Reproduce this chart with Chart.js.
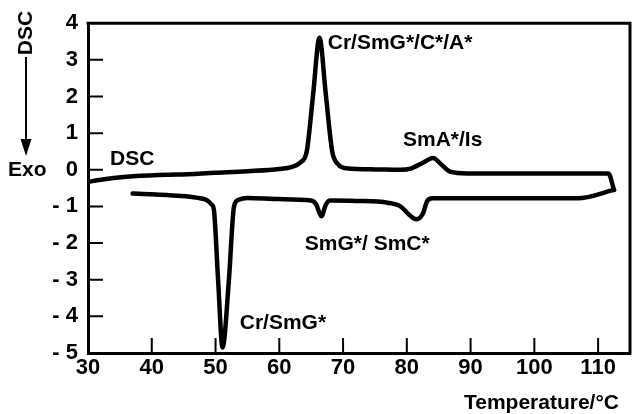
<!DOCTYPE html>
<html><head><meta charset="utf-8">
<script src="https://cdn.jsdelivr.net/npm/chart.js@4"></script>
<style>html,body{margin:0;padding:0;background:#fff;}canvas{display:block;}</style>
</head><body>
<canvas id="c" width="633" height="414"></canvas>
<script>
// Heating run (upper trace)
const heatT   = [30, 32, 36, 41, 44, 50, 55, 60, 62, 63.3, 64.3, 65.3, 66.3, 67.3, 68.3, 69.2, 70.5, 75, 79, 80.6, 82.6, 84.1, 85.5, 86.8, 89.5, 95, 100, 105, 111.6, 112.5];
const heatDSC = [-0.33, -0.27, -0.19, -0.14, -0.13, -0.08, -0.04, 0.02, 0.08, 0.2, 0.5, 2.05, 3.6, 2.05, 0.5, 0.15, 0.04, 0.01, 0.0, 0.03, 0.2, 0.32, 0.13, -0.05, -0.1, -0.1, -0.1, -0.1, -0.1, -0.55];
// Cooling run (lower trace)
const coolT   = [37, 40, 44, 47, 48.5, 49.4, 49.75, 50.4, 51.1, 52.1, 52.9, 53.6, 55, 60, 65, 65.8, 66.6, 67.3, 68, 72, 77, 79, 80.5, 81.5, 82.5, 83.2, 84, 95, 106.8, 112.5];
const coolDSC = [-0.65, -0.67, -0.71, -0.76, -0.82, -0.95, -1.1, -3.0, -4.85, -3.0, -1.0, -0.82, -0.77, -0.8, -0.84, -0.95, -1.27, -0.95, -0.84, -0.85, -0.9, -1.0, -1.25, -1.35, -1.2, -0.85, -0.78, -0.78, -0.78, -0.55];
// Axis ticks
const xTickValues = [30, 40, 50, 60, 70, 80, 90, 100, 110];
const yTickValues = [-5, -4, -3, -2, -1, 0, 1, 2, 3, 4];
// Texts
const xTitle = 'Temperature/°C';
const yTitle = 'DSC';
const exoLabel = 'Exo';
const curveLabel = 'DSC';
const transitionLabels = ['Cr/SmG*/C*/A*', 'SmA*/Is', 'SmG*/ SmC*', 'Cr/SmG*'];

const FONT = '"Liberation Sans", Arial, sans-serif';
const toXY = (xs, ys) => xs.map((x, i) => ({x, y: ys[i]}));

const decor = {
  id: 'decor',
  afterDraw(chart) {
    const {ctx, chartArea: a, scales: {x, y}} = chart;
    ctx.save();
    ctx.strokeStyle = '#000';
    ctx.fillStyle = '#000';
    ctx.lineCap = 'square';
    // frame top and right
    ctx.lineWidth = 3;
    ctx.beginPath();
    ctx.moveTo(a.left, a.top); ctx.lineTo(a.right, a.top); ctx.lineTo(a.right, a.bottom);
    ctx.stroke();
    // inward tick marks
    ctx.lineWidth = 2;
    ctx.lineCap = 'butt';
    ctx.beginPath();
    yTickValues.forEach(v => {
      if (v === -5 || v === 4) return;
      const py = y.getPixelForValue(v);
      ctx.moveTo(a.left, py); ctx.lineTo(a.left + 15, py);
    });
    xTickValues.forEach(v => {
      if (v === 30) return;
      const px = x.getPixelForValue(v);
      ctx.moveTo(px, a.bottom); ctx.lineTo(px, a.bottom - 15);
    });
    ctx.stroke();
    // annotations in data coordinates
    ctx.font = 'bold 21px ' + FONT;
    ctx.textBaseline = 'middle';
    ctx.textAlign = 'left';
    const put = (t, tx, ty) => ctx.fillText(t, x.getPixelForValue(tx), y.getPixelForValue(ty));
    put(curveLabel, 33.45, 0.30);
    put(transitionLabels[0], 67.6, 3.46);
    put(transitionLabels[1], 79.4, 0.81);
    put(transitionLabels[2], 64.0, -2.03);
    put(transitionLabels[3], 53.8, -4.19);
    // x title
    ctx.textAlign = 'right';
    ctx.fillText(xTitle, 619, 403);
    // y title, rotated, with arrow to Exo
    ctx.save();
    ctx.translate(26, 33);
    ctx.rotate(-Math.PI / 2);
    ctx.textAlign = 'center';
    ctx.fillText(yTitle, 0, 0);
    ctx.restore();
    ctx.lineWidth = 2;
    ctx.beginPath();
    ctx.moveTo(26, 57); ctx.lineTo(26, 142);
    ctx.stroke();
    ctx.beginPath();
    ctx.moveTo(20.5, 139); ctx.lineTo(31.5, 139); ctx.lineTo(26, 156); ctx.closePath();
    ctx.fill();
    ctx.textAlign = 'left';
    ctx.fillText(exoLabel, 8, 170);
    ctx.restore();
  }
};

new Chart(document.getElementById('c'), {
  type: 'line',
  data: {
    datasets: [
      {data: toXY(heatT, heatDSC)},
      {data: toXY(coolT, coolDSC)}
    ]
  },
  options: {
    responsive: false,
    animation: false,
    layout: {padding: {top: 20, right: 3, left: 0, bottom: 0}},
    elements: {
      line: {borderColor: '#000', borderWidth: 4.5, fill: false, cubicInterpolationMode: 'monotone', borderCapStyle: 'round', borderJoinStyle: 'round'},
      point: {radius: 0}
    },
    plugins: {legend: {display: false}, tooltip: {enabled: false}},
    scales: {
      x: {
        type: 'linear', min: 30, max: 115,
        afterFit: s => { s.height = 61; },
        afterBuildTicks: s => { s.ticks = xTickValues.map(v => ({value: v})); },
        grid: {display: false, drawTicks: false},
        border: {display: true, color: '#000', width: 3},
        ticks: {color: '#000', padding: 2, maxRotation: 0, font: {family: FONT, size: 22, weight: 'bold'}}
      },
      y: {
        type: 'linear', min: -5, max: 4,
        afterFit: s => { s.width = 88; },
        afterBuildTicks: s => { s.ticks = yTickValues.map(v => ({value: v})); },
        grid: {display: false, drawTicks: false},
        border: {display: true, color: '#000', width: 3},
        ticks: {color: '#000', padding: 10, font: {family: FONT, size: 22, weight: 'bold'},
          callback: v => v < 0 ? '- ' + (-v) : String(v)}
      }
    }
  },
  plugins: [decor]
});
</script>
</body></html>
